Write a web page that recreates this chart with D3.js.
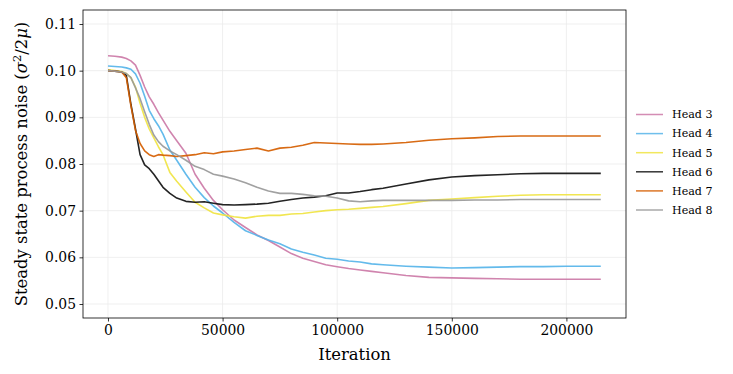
<!DOCTYPE html>
<html><head><meta charset="utf-8">
<script src="https://cdn.jsdelivr.net/npm/d3@7"></script>
<style>body{margin:0;background:#fff}svg{display:block}text{font-family:"DejaVu Serif",serif}</style>
</head><body><svg id="c" width="733" height="374"></svg>
<script>
const iterations = [0,3000,6000,8000,10000,12000,14000,16000,18000,20000,22000,24000,27000,30000,34000,38000,42000,46000,50000,55000,60000,65000,70000,75000,80000,85000,90000,95000,100000,105000,110000,115000,120000,130000,140000,150000,160000,170000,180000,190000,200000,215000];
const head3 = [.1032,.1031,.1029,.1026,.1021,.1012,.0990,.0965,.0944,.0928,.0910,.0894,.0870,.0850,.0823,.0778,.0748,.0722,.0702,.0680,.0664,.0648,.0636,.0622,.0608,.0598,.0591,.0584,.0580,.0576,.0573,.0570,.0567,.0561,.0557,.0556,.0555,.0554,.0553,.0553,.0553,.0553];
const head4 = [.1010,.1009,.1008,.1006,.1003,.0993,.0973,.0945,.0915,.0897,.0882,.0864,.0830,.0808,.0778,.0750,.0728,.0710,.0695,.0675,.0657,.0647,.0637,.0629,.0618,.0611,.0605,.0598,.0596,.0592,.0590,.0586,.0584,.0581,.0579,.0577,.0578,.0579,.0580,.0580,.0581,.0581];
const head5 = [.1002,.1000,.0998,.0994,.0985,.0965,.0930,.0900,.0875,.0856,.0837,.0820,.0782,.0763,.0740,.0718,.0706,.0695,.0691,.0687,.0684,.0688,.0690,.0690,.0693,.0694,.0697,.0700,.0702,.0703,.0705,.0707,.0709,.0715,.0722,.0725,.0728,.0731,.0733,.0734,.0734,.0734];
const head6 = [.1000,.0999,.0997,.0990,.0928,.0875,.0820,.0798,.0790,.0778,.0764,.0750,.0737,.0727,.0720,.0718,.0719,.0716,.0713,.0712,.0713,.0714,.0716,.0720,.0724,.0727,.0729,.0732,.0738,.0738,.0741,.0745,.0748,.0757,.0766,.0772,.0775,.0777,.0779,.0780,.0780,.0780];
const head7 = [.1000,.0999,.0997,.0985,.0925,.0872,.0844,.0828,.0820,.0816,.0820,.0819,.0818,.0816,.0818,.0820,.0824,.0822,.0826,.0828,.0831,.0834,.0828,.0834,.0836,.0840,.0846,.0845,.0844,.0843,.0842,.0842,.0843,.0846,.0851,.0854,.0856,.0859,.0860,.0860,.0860,.0860];
const head8 = [.1000,.0999,.0997,.0994,.0985,.0963,.0940,.0912,.0885,.0862,.0848,.0838,.0828,.0820,.0808,.0795,.0788,.0778,.0774,.0768,.0760,.0750,.0742,.0737,.0737,.0735,.0732,.0731,.0727,.0721,.0719,.0721,.0722,.0722,.0722,.0722,.0723,.0723,.0724,.0724,.0724,.0724];
const seriesNames = ["Head 3","Head 4","Head 5","Head 6","Head 7","Head 8"];
const seriesColors = ["#CC79A7","#56B4E9","#F0E442","#111111","#D55E00","#999999"];
const xTicks = [0,50000,100000,150000,200000];
const yTicks = [0.05,0.06,0.07,0.08,0.09,0.10,0.11];

const series = [head3,head4,head5,head6,head7,head8].map((v,i)=>({name:seriesNames[i],color:seriesColors[i],values:v}));
const svg = d3.select("#c");
const L=83, R=626, T=10, B=318;
const x = d3.scaleLinear().domain([-10900,226000]).range([L,R]);
const y = d3.scaleLinear().domain([0.047,0.113]).range([B,T]);

// grid
svg.append("g").selectAll("line").data(xTicks).join("line")
  .attr("x1",d=>x(d)).attr("x2",d=>x(d)).attr("y1",T).attr("y2",B)
  .attr("stroke","#ebebeb").attr("stroke-width",0.8);
svg.append("g").selectAll("line").data(yTicks).join("line")
  .attr("y1",d=>y(d)).attr("y2",d=>y(d)).attr("x1",L).attr("x2",R)
  .attr("stroke","#ebebeb").attr("stroke-width",0.8);

const line = d3.line().x((d,i)=>x(iterations[i])).y(d=>y(d));
svg.append("g").selectAll("path").data(series).join("path")
  .attr("d",d=>line(d.values)).attr("fill","none")
  .attr("stroke",d=>d.color).attr("stroke-width",1.6).attr("stroke-opacity",0.92)
  .attr("stroke-linejoin","round");

// axes
const xa = svg.append("g").attr("transform",`translate(0,${B})`)
  .call(d3.axisBottom(x).tickValues(xTicks).tickFormat(d3.format("d")).tickSizeOuter(0).tickSize(3.5).tickPadding(3.5));
const ya = svg.append("g").attr("transform",`translate(${L},0)`)
  .call(d3.axisLeft(y).tickValues(yTicks).tickFormat(d3.format(".2f")).tickSizeOuter(0).tickSize(3.5).tickPadding(3.5));
[xa,ya].forEach(a=>{a.select(".domain").remove();a.selectAll("text").attr("font-size",13.9).attr("fill","#000").attr("font-family","DejaVu Serif");a.selectAll("line").attr("stroke","#000").attr("stroke-width",0.8);});
svg.append("rect").attr("x",L).attr("y",T).attr("width",R-L).attr("height",B-T)
  .attr("fill","none").attr("stroke","#000").attr("stroke-width",0.8);

svg.append("text").attr("x",(L+R)/2).attr("y",360).attr("text-anchor","middle")
  .attr("font-size",16.4).text("Iteration");
const yl = svg.append("text").attr("transform",`translate(27,${(T+B)/2}) rotate(-90)`)
  .attr("text-anchor","middle").attr("font-size",16.4);
yl.append("tspan").text("Steady state process noise (");
yl.append("tspan").attr("font-style","italic").text("σ");
yl.append("tspan").attr("font-size",11.5).attr("dy",-6.5).text("2");
yl.append("tspan").attr("dy",6.5).text("/2");
yl.append("tspan").attr("font-style","italic").text("μ");
yl.append("tspan").text(")");

// legend
const lg = svg.append("g").selectAll("g").data(series).join("g")
  .attr("transform",(d,i)=>`translate(636,${114.5+i*19.1})`);
lg.append("line").attr("x1",0).attr("x2",27).attr("stroke",d=>d.color).attr("stroke-width",1.5).attr("stroke-opacity",0.85);
lg.append("text").attr("x",36).attr("dy","0.35em").attr("font-size",11.1).text(d=>d.name);
</script></body></html>
